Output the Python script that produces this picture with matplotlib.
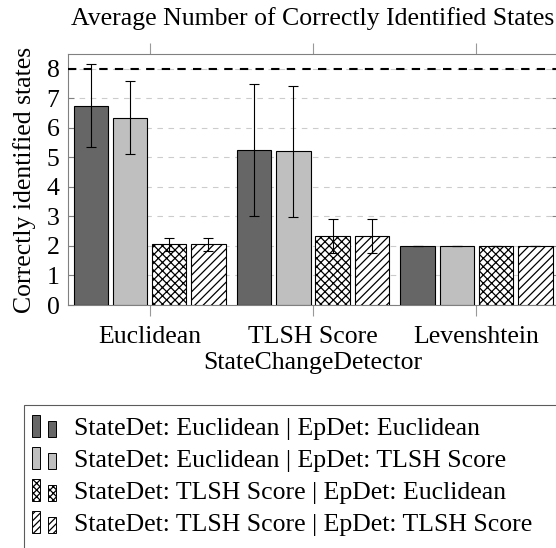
import numpy as np
import matplotlib
matplotlib.use('Agg')
import matplotlib.pyplot as plt
from matplotlib.patches import Rectangle
from matplotlib.legend_handler import HandlerBase

plt.rcParams['font.family'] = ['Liberation Serif', 'DejaVu Serif']
plt.rcParams['hatch.linewidth'] = 0.9

groups = ['Euclidean', 'TLSH Score', 'Levenshtein']
series = ['StateDet: Euclidean | EpDet: Euclidean',
          'StateDet: Euclidean | EpDet: TLSH Score',
          'StateDet: TLSH Score | EpDet: Euclidean',
          'StateDet: TLSH Score | EpDet: TLSH Score']
means = [[6.75, 5.25, 2.0],
         [6.35, 5.20, 2.0],
         [2.05, 2.35, 2.0],
         [2.05, 2.35, 2.0]]
errs = [[1.40, 2.25, 0.0],
        [1.23, 2.22, 0.0],
        [0.22, 0.58, 0.0],
        [0.22, 0.58, 0.0]]
target = 8
y_ticks = [0, 1, 2, 3, 4, 5, 6, 7, 8]

faces = ['#666666', '#bfbfbf', 'white', 'white']
hatches = [None, None, 'xxxx', '////']
leg_hatches = [None, None, 'xxxxx', '/////']
FS = 18.5


class TwoBoxHandler(HandlerBase):
    # pgfplots style legend image: two small bars
    def __init__(self, hatch):
        super().__init__()
        self.hatch = hatch

    def create_artists(self, legend, orig, xd, yd, width, height, fontsize, trans):
        fc = orig.get_facecolor()
        x0 = -xd - 0.18 * fontsize
        y0 = -yd - 0.15 * height
        r1 = Rectangle((x0, y0), 0.29 * fontsize, height * 1.3,
                       facecolor=fc, edgecolor='black', hatch=self.hatch, lw=0.7,
                       transform=trans)
        r2 = Rectangle((x0 + 0.62 * fontsize, y0), 0.29 * fontsize, height * 0.98,
                       facecolor=fc, edgecolor='black', hatch=self.hatch, lw=0.7,
                       transform=trans)
        return [r1, r2]


fig = plt.figure(figsize=(5.56, 5.48), dpi=100)
ax = fig.add_axes([0.122, 0.4434, 0.882, 0.458])

x = np.arange(len(groups))
w = 0.21
offs = [-0.36, -0.12, 0.12, 0.36]
handles = []
for i in range(4):
    b = ax.bar(x + offs[i], means[i], w, color=faces[i], edgecolor='black',
               hatch=hatches[i], linewidth=0.8, zorder=3,
               yerr=errs[i], error_kw=dict(ecolor='black', elinewidth=0.8,
                                           capsize=3.5, capthick=0.8, zorder=4))
    handles.append(b.patches[0])

ax.axhline(target, color='black', ls=(0, (4, 3.5)), lw=1.5, zorder=5)

ax.set_xlim(-0.5, 2.5)
ax.set_ylim(0, 8.5)
ax.set_yticks(y_ticks)
ax.set_xticks(x)
ax.set_xticklabels(groups)
ax.yaxis.grid(True, color='#cccccc', ls=(0, (5, 5)), lw=0.8, zorder=0)
ax.set_axisbelow(True)
for s in ax.spines.values():
    s.set_color('#808080')
ax.tick_params(axis='x', direction='out', length=8, color='#999999',
               top=True, labelsize=FS, pad=7)
ax.tick_params(axis='y', direction='in', length=4, color='#808080',
               right=True, labelsize=FS, pad=6)
ax.set_ylabel('Correctly identified states', fontsize=FS, labelpad=8)
ax.set_xlabel('StateChangeDetector', fontsize=FS, labelpad=3)
ax.set_title('Average Number of Correctly Identified States', fontsize=FS, pad=21)

leg = fig.legend(handles, series, loc='upper left',
                 bbox_to_anchor=(0.043, -0.05, 0.96, 0.311), mode='expand',
                 handler_map={h: TwoBoxHandler(leg_hatches[i]) for i, h in enumerate(handles)},
                 fontsize=FS, frameon=True, fancybox=False, handlelength=0.75,
                 handleheight=0.6, handletextpad=0.7, labelspacing=0.38,
                 borderpad=0.5, borderaxespad=0)
leg.get_frame().set_edgecolor('#333333')
leg.get_frame().set_linewidth(0.8)

fig.savefig('out.png', dpi=100)
